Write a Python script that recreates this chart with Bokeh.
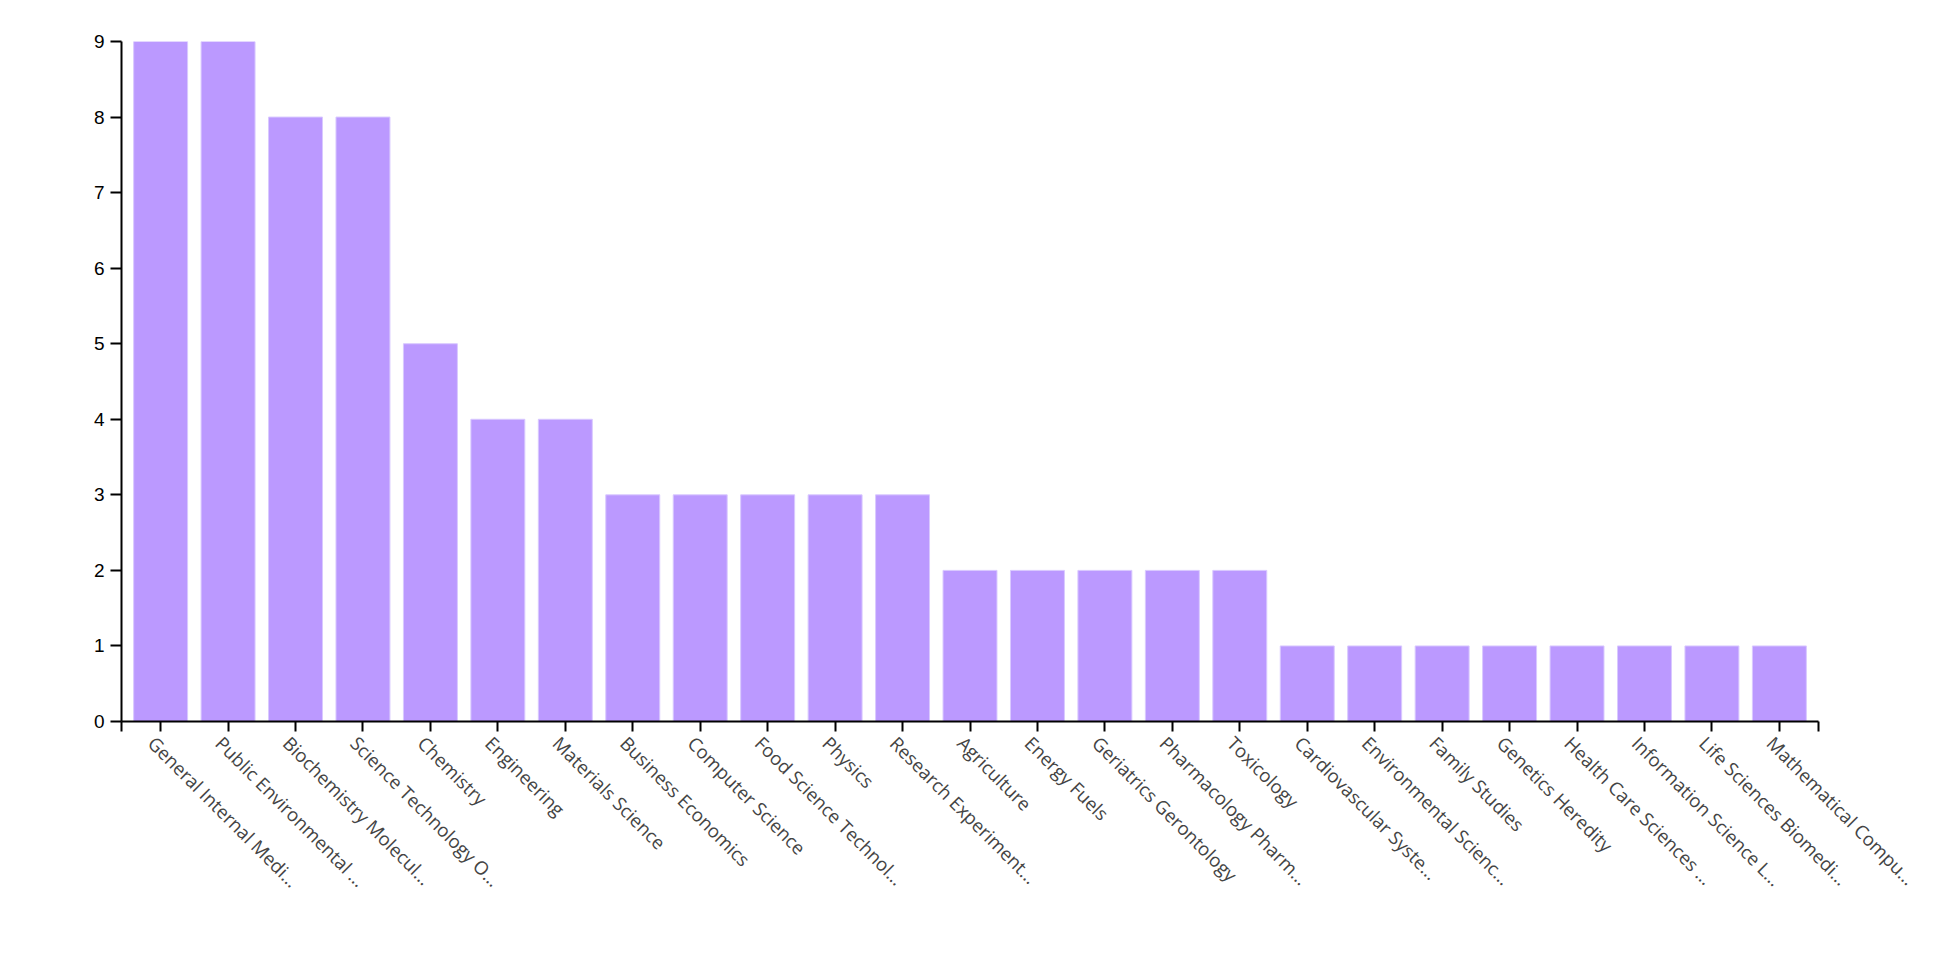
import math
from bokeh.plotting import figure
from bokeh.models import Range1d, FixedTicker, ColumnDataSource, LinearAxis
from bokeh.embed import file_html
from bokeh.resources import INLINE

categories = [
    "General Internal Medi…", "Public Environmental …", "Biochemistry Molecul…",
    "Science Technology O…", "Chemistry", "Engineering", "Materials Science",
    "Business Economics", "Computer Science", "Food Science Technol…", "Physics",
    "Research Experiment…", "Agriculture", "Energy Fuels", "Geriatrics Gerontology",
    "Pharmacology Pharm…", "Toxicology", "Cardiovascular Syste…", "Environmental Scienc…",
    "Family Studies", "Genetics Heredity", "Health Care Sciences …",
    "Information Science L…", "Life Sciences Biomedi…", "Mathematical Compu…",
]
counts = [9, 9, 8, 8, 5, 4, 4, 3, 3, 3, 3, 3, 2, 2, 2, 2, 2, 1, 1, 1, 1, 1, 1, 1, 1]
y_ticks = [0, 1, 2, 3, 4, 5, 6, 7, 8, 9]

n = len(categories)
pad = 0.58
x_start, x_end = -pad, n - 1 + pad
positions = list(range(n))
label_shift = 0.13  # labels sit a little left of their tick, as in the original

src = ColumnDataSource(dict(x=positions, top=counts, cat=categories))

p = figure(width=1944, height=921, output_backend="svg", toolbar_location=None,
           x_range=Range1d(x_start, x_end), y_range=Range1d(0, max(y_ticks)),
           min_border_left=121, min_border_right=126, min_border_top=41,
           min_border_bottom=200)
p.extra_x_ranges = {"labels": Range1d(x_start + label_shift, x_end + label_shift)}
p.outline_line_color = None
p.grid.visible = False
p.background_fill_color = "white"
p.border_fill_color = "white"

p.vbar(x="x", top="top", bottom=0, width=0.8, source=src,
       fill_color="#bb99ff", line_color="#d9c9ff", line_width=1)

# main x axis: line and ticks only
xa = p.xaxis[0]
ticks = [x_start] + positions + [x_end]
xa.ticker = FixedTicker(ticks=ticks)
xa.major_label_overrides = {t: "" for t in ticks}
xa.major_label_text_font_size = "0px"
xa.major_label_standoff = 0
xa.axis_line_width = 2
xa.axis_line_color = "black"
xa.major_tick_line_width = 2
xa.major_tick_line_color = "black"
xa.major_tick_out = 10
xa.major_tick_in = 0
xa.minor_tick_line_color = None

# label axis: category names rotated 45 degrees
la = LinearAxis(x_range_name="labels", ticker=FixedTicker(ticks=positions))
la.major_label_overrides = {i: c for i, c in enumerate(categories)}
la.major_label_orientation = -math.pi / 4
la.major_label_text_font = "Open Sans"
la.major_label_text_font_size = "18.6px"
la.major_label_text_color = "#444444"
la.major_label_standoff = 8
la.axis_line_color = None
la.major_tick_line_color = None
la.major_tick_out = 0
la.major_tick_in = 0
la.minor_tick_line_color = None
p.add_layout(la, "below")

ya = p.yaxis[0]
ya.ticker = FixedTicker(ticks=y_ticks)
ya.major_label_text_font = "Liberation Sans"
ya.major_label_text_font_size = "19px"
ya.major_label_text_color = "black"
ya.major_label_standoff = 6
ya.axis_line_width = 2
ya.axis_line_color = "black"
ya.major_tick_line_width = 2
ya.major_tick_line_color = "black"
ya.major_tick_out = 11
ya.major_tick_in = 0
ya.minor_tick_line_color = None

open("out.html", "w").write(file_html(p, INLINE))
